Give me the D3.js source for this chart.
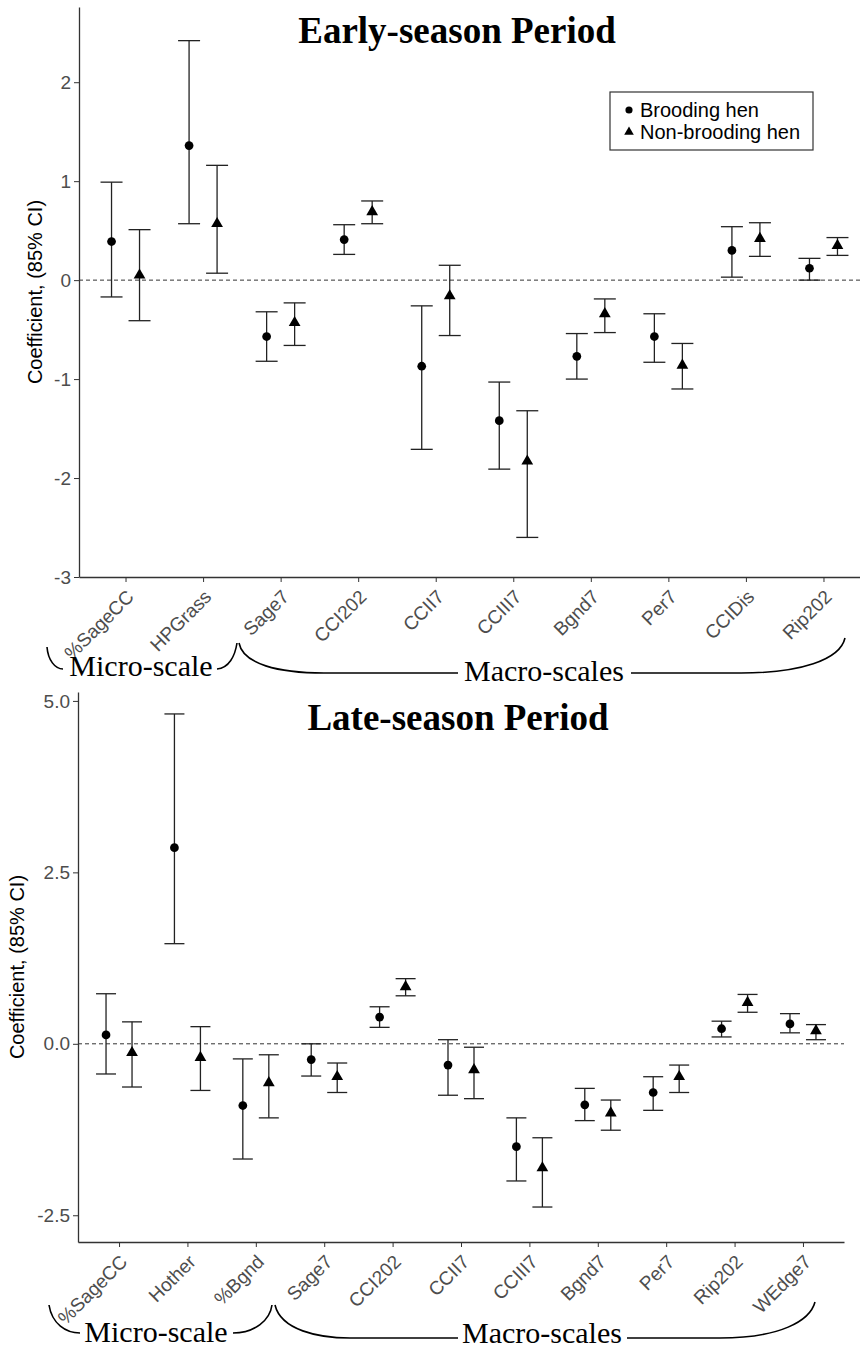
<!DOCTYPE html>
<html lang="en">
<head>
  <meta charset="UTF-8">
  <title>Coefficient plot</title>
  <style>
    body { margin: 0; background: #fff; }
    svg { display: block; }
    .tick text { fill: #4d4d4d; font-family: "Liberation Sans", Arial, sans-serif; font-size: 19px; }
    .tick line, .domain { stroke: #333; }
  </style>
</head>
<body>
<script src="https://cdn.jsdelivr.net/npm/d3@7"></script>
<script>
  // Early-season data
  const earlyCats = ['%SageCC', 'HPGrass', 'Sage7', 'CCI202', 'CCII7', 'CCIII7', 'Bgnd7', 'Per7', 'CCIDis', 'Rip202'];
  const earlyBrood   = [0.39, 1.36, -0.57, 0.41, -0.87, -1.42, -0.77, -0.57, 0.30, 0.12];
  const earlyBroodLo = [-0.17, 0.57, -0.82, 0.26, -1.71, -1.91, -1.00, -0.83, 0.03, 0.00];
  const earlyBroodHi = [0.99, 2.42, -0.32, 0.56, -0.26, -1.03, -0.54, -0.34, 0.54, 0.22];
  const earlyNon     = [0.05, 0.57, -0.43, 0.69, -0.16, -1.83, -0.34, -0.86, 0.42, 0.35];
  const earlyNonLo   = [-0.41, 0.07, -0.66, 0.57, -0.56, -2.60, -0.53, -1.10, 0.24, 0.25];
  const earlyNonHi   = [0.51, 1.16, -0.23, 0.80, 0.15, -1.32, -0.19, -0.64, 0.58, 0.43];
  const earlyTicks = [-3, -2, -1, 0, 1, 2];

  // Late-season data
  const lateCats = ['%SageCC', 'Hother', '%Bgnd', 'Sage7', 'CCI202', 'CCII7', 'CCIII7', 'Bgnd7', 'Per7', 'Rip202', 'WEdge7'];
  const lateBrood   = [0.13, 2.86, -0.90, -0.23, 0.39, -0.31, -1.50, -0.89, -0.71, 0.22, 0.29];
  const lateBroodLo = [-0.44, 1.46, -1.68, -0.47, 0.24, -0.75, -2.00, -1.12, -0.97, 0.10, 0.16];
  const lateBroodHi = [0.73, 4.81, -0.22, 0.00, 0.54, 0.06, -1.08, -0.65, -0.48, 0.33, 0.44];
  const lateNon     = [-0.13, -0.20, -0.57, -0.48, 0.83, -0.38, -1.81, -1.01, -0.48, 0.60, 0.19];
  const lateNonLo   = [-0.63, -0.68, -1.08, -0.71, 0.70, -0.80, -2.38, -1.26, -0.71, 0.46, 0.06];
  const lateNonHi   = [0.32, 0.25, -0.16, -0.28, 0.95, -0.05, -1.37, -0.82, -0.31, 0.72, 0.28];
  const lateTicks = [-2.5, 0, 2.5, 5.0];

  const seriesNames = ['Brooding hen', 'Non-brooding hen'];

  const svg = d3.select('body').append('svg')
    .attr('width', 860)
    .attr('height', 1350);

  const sans = '"Liberation Sans", Arial, sans-serif';
  const serif = '"Liberation Serif", "Times New Roman", serif';

  // plain hyphen for negatives, like the original
  const hyphen = f => v => f(v).replace('\u2212', '-');

  function panel(opt) {
    const x = d3.scalePoint()
      .domain(opt.cats)
      .range([opt.left, opt.right])
      .padding(0.6);
    const y = d3.scaleLinear()
      .domain(opt.yDomain)
      .range([opt.bottom, opt.top]);

    const g = svg.append('g');

    // zero reference line
    g.append('line')
      .attr('x1', opt.left).attr('x2', opt.right)
      .attr('y1', y(0)).attr('y2', y(0))
      .attr('stroke', '#333')
      .attr('stroke-width', 1)
      .attr('stroke-dasharray', '4,3');

    // axes
    const yAxis = g.append('g')
      .attr('transform', 'translate(' + opt.left + ',0)')
      .call(d3.axisLeft(y).tickValues(opt.ticks).tickFormat(hyphen(opt.fmt)).tickSize(5).tickSizeOuter(0).tickPadding(3));
    yAxis.select('.domain').attr('stroke-width', 1.3);

    const xAxis = g.append('g')
      .attr('transform', 'translate(0,' + opt.bottom + ')')
      .call(d3.axisBottom(x).tickSize(5).tickSizeOuter(0));
    xAxis.select('.domain').attr('stroke-width', 1.3);
    xAxis.selectAll('.tick text')
      .attr('text-anchor', 'end')
      .attr('y', 0).attr('dy', 0)
      .attr('transform', 'translate(9,21) rotate(-45)');

    // error bars + points
    const groups = [
      { mid: opt.brood, lo: opt.broodLo, hi: opt.broodHi, dx: -opt.dodge, sym: d3.symbolCircle },
      { mid: opt.non, lo: opt.nonLo, hi: opt.nonHi, dx: opt.dodge, sym: d3.symbolTriangle }
    ];
    groups.forEach(s => {
      const rows = opt.cats.map((c, i) => ({ c, m: s.mid[i], lo: s.lo[i], hi: s.hi[i] }));
      const eb = g.append('g').selectAll('g').data(rows).enter().append('g')
        .attr('stroke', '#222').attr('stroke-width', 1.3);
      eb.append('line')
        .attr('x1', d => x(d.c) + s.dx).attr('x2', d => x(d.c) + s.dx)
        .attr('y1', d => y(d.lo)).attr('y2', d => y(d.hi));
      eb.append('line')
        .attr('x1', d => x(d.c) + s.dx - opt.cap).attr('x2', d => x(d.c) + s.dx + opt.cap)
        .attr('y1', d => y(d.hi)).attr('y2', d => y(d.hi));
      eb.append('line')
        .attr('x1', d => x(d.c) + s.dx - opt.cap).attr('x2', d => x(d.c) + s.dx + opt.cap)
        .attr('y1', d => y(d.lo)).attr('y2', d => y(d.lo));
      g.append('g').selectAll('path').data(rows).enter().append('path')
        .attr('d', d3.symbol().type(s.sym).size(60))
        .attr('transform', d => 'translate(' + (x(d.c) + s.dx) + ',' + y(d.m) + ')')
        .attr('fill', '#000');
    });

    // title
    g.append('text')
      .attr('x', opt.titleX).attr('y', opt.titleY)
      .attr('text-anchor', 'middle')
      .attr('font-family', serif).attr('font-weight', 'bold').attr('font-size', 37)
      .text(opt.title);

    // y label
    g.append('text')
      .attr('transform', 'translate(' + opt.labelX + ',' + ((opt.top + opt.bottom) / 2) + ') rotate(-90)')
      .attr('text-anchor', 'middle')
      .attr('font-family', sans).attr('font-size', 20)
      .text('Coefficient, (85% CI)');

    // scale braces
    opt.braces.forEach(b => {
      g.append('path').attr('d', b).attr('fill', 'none').attr('stroke', '#000').attr('stroke-width', 1.6);
    });
    opt.groupLabels.forEach(t => {
      g.append('text')
        .attr('x', t.x).attr('y', t.y)
        .attr('text-anchor', 'middle')
        .attr('font-family', serif).attr('font-size', 30)
        .text(t.text);
    });
    return { x, y, g };
  }

  const early = panel({
    cats: earlyCats, brood: earlyBrood, broodLo: earlyBroodLo, broodHi: earlyBroodHi,
    non: earlyNon, nonLo: earlyNonLo, nonHi: earlyNonHi,
    ticks: earlyTicks, fmt: d3.format('d'),
    left: 79, right: 870, top: 7, bottom: 577, yDomain: [-3.0, 2.76],
    dodge: 14, cap: 11, labelX: 42,
    title: 'Early-season Period', titleX: 457, titleY: 43,
    braces: [
      'M47,647 C48,660 55,669 63,669',
      'M217,669 C229,668 235,656 237,643',
      'M239,643 C243,664 278,673 324,673 L458,673',
      'M631,673 L741,673 C800,673 840,660 845,638'
    ],
    groupLabels: [
      { text: 'Micro-scale', x: 141, y: 676 },
      { text: 'Macro-scales', x: 544, y: 681 }
    ]
  });

  const late = panel({
    cats: lateCats, brood: lateBrood, broodLo: lateBroodLo, broodHi: lateBroodHi,
    non: lateNon, nonLo: lateNonLo, nonHi: lateNonHi,
    ticks: lateTicks, fmt: d3.format('.1f'),
    left: 78, right: 844, top: 692, bottom: 1242, yDomain: [-2.89, 5.13],
    dodge: 13, cap: 10, labelX: 24,
    title: 'Late-season Period', titleX: 458, titleY: 730,
    braces: [
      'M49,1305 C52,1324 66,1333 80,1333',
      'M233,1333 C255,1333 270,1320 272,1305',
      'M275,1305 C281,1330 318,1338 350,1338 L458,1338',
      'M627,1338 L720,1338 C780,1338 810,1321 815,1302'
    ],
    groupLabels: [
      { text: 'Micro-scale', x: 156, y: 1342 },
      { text: 'Macro-scales', x: 542, y: 1343 }
    ]
  });

  // legend (early panel only)
  const legend = svg.append('g');
  legend.append('rect')
    .attr('x', 610).attr('y', 92).attr('width', 203).attr('height', 58)
    .attr('fill', '#fff').attr('stroke', '#333').attr('stroke-width', 1.2);
  const legSyms = [d3.symbolCircle, d3.symbolTriangle];
  seriesNames.forEach((name, i) => {
    legend.append('path')
      .attr('d', d3.symbol().type(legSyms[i]).size(40))
      .attr('transform', 'translate(629,' + (110 + i * 22) + ')')
      .attr('fill', '#000');
    legend.append('text')
      .attr('x', 640).attr('y', 117 + i * 22)
      .attr('font-family', sans).attr('font-size', 20)
      .text(name);
  });
</script>
</body>
</html>
